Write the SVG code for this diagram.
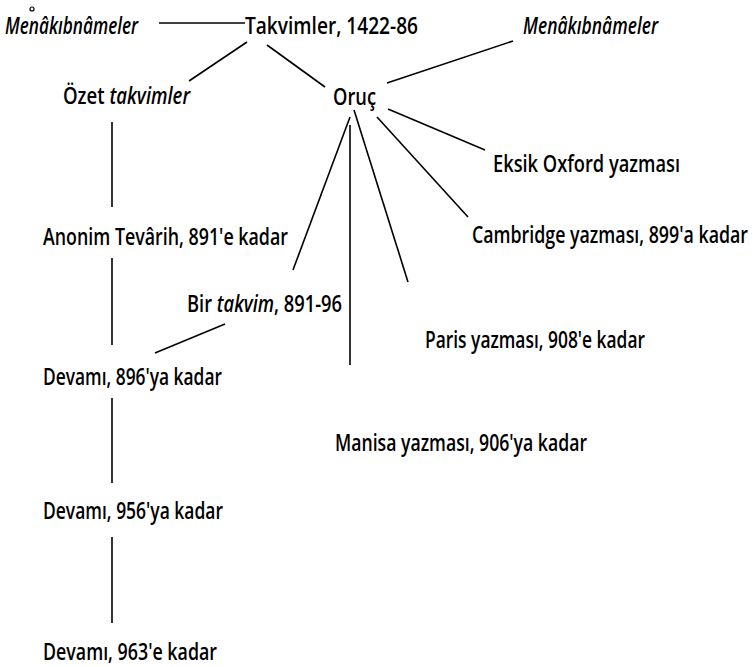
<svg xmlns="http://www.w3.org/2000/svg" width="753" height="667" viewBox="0 0 753 667">
<style>
text{font-family:"Open Sans","Liberation Sans",sans-serif;font-size:24px;font-weight:600;fill:#000}
.i{font-style:italic}
.c line{stroke:#000;stroke-width:1.6;fill:none}
</style>
<rect width="753" height="667" fill="#fff"/>
<g class="c" id="connectors">
<line x1="159" y1="23" x2="245" y2="23"/>
<line x1="247" y1="42" x2="189" y2="81"/>
<line x1="267" y1="45" x2="325" y2="87"/>
<line x1="387" y1="83" x2="513" y2="41"/>
<line x1="388" y1="109" x2="485" y2="150"/>
<line x1="377" y1="117" x2="468" y2="217"/>
<line x1="354" y1="110" x2="408" y2="282"/>
<line x1="350" y1="125" x2="350" y2="365"/>
<line x1="350" y1="117" x2="293" y2="270"/>
<line x1="225" y1="324" x2="155" y2="353"/>
<line x1="112" y1="122" x2="112" y2="207"/>
<line x1="112" y1="258" x2="112" y2="345"/>
<line x1="112" y1="398" x2="112" y2="483"/>
<line x1="112" y1="537" x2="112" y2="623"/>
</g>
<g id="menakib-left"><text class="i" x="5" y="34" textLength="133" lengthAdjust="spacingAndGlyphs">Menâkıbnâmeler</text><circle cx="32" cy="9" r="2" fill="none" stroke="#000" stroke-width="1.2"/></g>
<g id="takvimler"><text x="245" y="34" textLength="173" lengthAdjust="spacingAndGlyphs">Takvimler, 1422-86</text></g>
<g id="menakib-right"><text class="i" x="523" y="34" textLength="135" lengthAdjust="spacingAndGlyphs">Menâkıbnâmeler</text></g>
<g id="ozet"><text x="63" y="104" textLength="127" lengthAdjust="spacingAndGlyphs">Özet <tspan class="i">takvimler</tspan></text></g>
<g id="oruc"><text x="333" y="105" textLength="43" lengthAdjust="spacingAndGlyphs">Oruç</text></g>
<g id="eksik"><text x="493" y="172" textLength="187" lengthAdjust="spacingAndGlyphs">Eksik Oxford yazması</text></g>
<g id="anonim"><text x="43" y="245" textLength="245" lengthAdjust="spacingAndGlyphs">Anonim Tevârih, 891'e kadar</text></g>
<g id="cambridge"><text x="472" y="243" textLength="276" lengthAdjust="spacingAndGlyphs">Cambridge yazması, 899'a kadar</text></g>
<g id="bir-takvim"><text x="187" y="312" textLength="155" lengthAdjust="spacingAndGlyphs">Bir <tspan class="i">takvim</tspan>, 891-96</text></g>
<g id="paris"><text x="425" y="348" textLength="220" lengthAdjust="spacingAndGlyphs">Paris yazması, 908'e kadar</text></g>
<g id="devami-896"><text x="43" y="385" textLength="179" lengthAdjust="spacingAndGlyphs">Devamı, 896'ya kadar</text></g>
<g id="manisa"><text x="335" y="451" textLength="252" lengthAdjust="spacingAndGlyphs">Manisa yazması, 906'ya kadar</text></g>
<g id="devami-956"><text x="43" y="519" textLength="180" lengthAdjust="spacingAndGlyphs">Devamı, 956'ya kadar</text></g>
<g id="devami-963"><text x="43" y="660" textLength="174" lengthAdjust="spacingAndGlyphs">Devamı, 963'e kadar</text></g>
</svg>
